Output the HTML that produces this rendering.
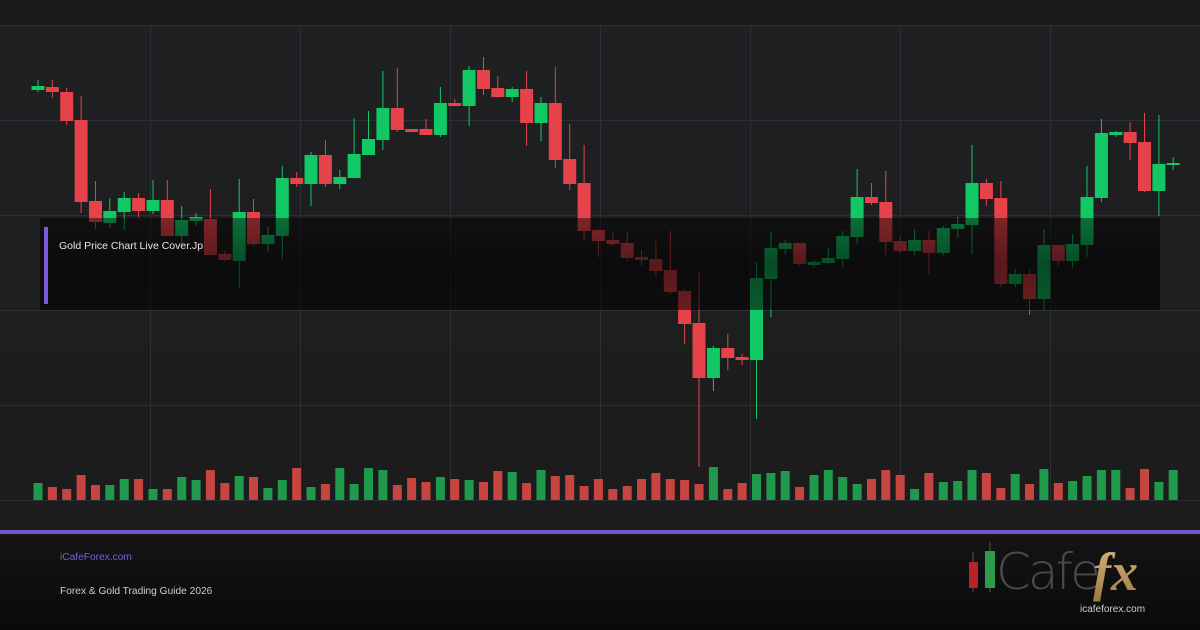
<!DOCTYPE html>
<html><head><meta charset="utf-8"><style>
html,body{margin:0;padding:0;background:#1c1c1e;}
body{width:1200px;height:630px;overflow:hidden;position:relative;font-family:"Liberation Sans",sans-serif;}
svg{position:absolute;left:0;top:0;}
</style></head><body>
<svg id="s" width="1200" height="630" viewBox="0 0 1200 630" xmlns="http://www.w3.org/2000/svg">
<defs>
<linearGradient id="bg" x1="0" y1="0" x2="0" y2="1"><stop offset="0" stop-color="#1f2022"/><stop offset="1" stop-color="#1c1c1c"/></linearGradient>
<linearGradient id="ft" x1="0" y1="0" x2="0" y2="1"><stop offset="0" stop-color="#141414"/><stop offset="1" stop-color="#0a0a0a"/></linearGradient>
<linearGradient id="ov" x1="0" y1="0" x2="0" y2="1"><stop offset="0" stop-color="#000" stop-opacity="0.45"/><stop offset="0.5" stop-color="#000" stop-opacity="0.62"/><stop offset="1" stop-color="#000" stop-opacity="0.55"/></linearGradient>
<linearGradient id="gold" x1="0" y1="0" x2="0" y2="1"><stop offset="0" stop-color="#d9b77a"/><stop offset="1" stop-color="#9c7a45"/></linearGradient>
</defs>
<rect x="0" y="0" width="1200" height="25" fill="#19191b"/>
<rect x="0" y="25" width="1200" height="505" fill="url(#bg)"/>
<g id="grid" stroke="#2c2f38" stroke-width="1"></g>
<g id="vol"></g>
<g id="cs"></g>
<rect x="40" y="218" width="1120" height="92" fill="url(#ov)"/>
<rect x="44" y="227" width="4" height="77" fill="#7a5ad8"/>
<text x="59" y="249" font-size="10.5" fill="#e8e8e8">Gold Price Chart Live Cover.Jp</text>
<rect x="0" y="530" width="1200" height="4" fill="#7255c8"/>
<rect x="0" y="534" width="1200" height="96" fill="url(#ft)"/>
<text x="60" y="560" font-size="10.2" fill="#7b5fd6">iCafeForex.com</text>
<text x="60" y="594" font-size="10.2" fill="#cfcfcf">Forex &amp; Gold Trading Guide 2026</text>
<line x1="973" y1="552" x2="973" y2="592" stroke="#555" stroke-width="1"/>
<rect x="969" y="562" width="9" height="26" fill="#b8232a"/>
<line x1="990" y1="542" x2="990" y2="592" stroke="#555" stroke-width="1"/>
<rect x="985" y="551" width="10" height="37" fill="#2f9a47"/>
<text x="996" y="589" font-size="50" fill="#4a4a4a" font-family="'DejaVu Sans','Liberation Sans',sans-serif" font-weight="200" letter-spacing="-3">Cafe</text>
<text x="1093" y="590" font-size="54" fill="url(#gold)" font-family="'Liberation Serif',serif" font-style="italic" font-weight="bold">fx</text>
<text x="1080" y="612" font-size="10" fill="#d0d0d0">icafeforex.com</text>
</svg>
<script>
var ns="http://www.w3.org/2000/svg";
function el(p,t,a){var e=document.createElementNS(ns,t);for(var k in a)e.setAttribute(k,a[k]);p.appendChild(e);return e;}
var g=document.getElementById('grid');
[25,120,215,310,405,500].forEach(function(y){el(g,'line',{x1:0,x2:1200,y1:y+.5,y2:y+.5});});
[150,300,450,600,750,900,1050].forEach(function(x){el(g,'line',{x1:x+.5,x2:x+.5,y1:25,y2:500});});
var d=[[86,90,80,92,1],[87,92,80,98,0],[92,121,88,125,0],[120,202,96,213,0],[201,222,181,229,0],[211,223,198,228,1],[198,212,192,230,1],[198,211,193,217,0],[200,211,180,214,1],[200,236,180,236,0],
[220,236,206,245,1],[217,221,213,226,1],[219,255,189,257,0],[254,260,251,262,0],[212,261,179,288,1],[212,244,199,246,0],[235,244,227,252,1],[178,236,166,259,1],[178,184,172,187,0],[155,184,152,206,1],
[155,184,140,187,0],[177,184,170,189,1],[154,178,118,178,1],[139,155,111,150,1],[108,140,71,150,1],[108,130,68,132,0],[129,132,129,132,0],[129,135,119,135,0],[103,135,87,137,1],[103,106,99,106,0],
[70,106,66,126,1],[70,89,57,95,0],[88,97,76,98,0],[89,97,87,102,1],[89,123,71,146,0],[103,123,97,141,1],[103,160,67,168,0],[159,184,124,190,0],[183,231,145,240,0],[230,241,229,257,0],
[240,244,233,246,0],[243,258,232,261,0],[257,260,250,266,0],[259,271,241,277,0],[270,292,231,294,0],[291,324,289,344,0],[323,378,271,467,0],[348,378,346,391,1],[348,358,334,370,0],[357,360,354,365,0],
[278,360,262,419,1],[248,279,232,317,1],[243,249,240,255,1],[243,264,243,266,0],[262,265,260,268,1],[258,263,248,264,1],[236,259,231,268,1],[197,237,169,244,1],[197,203,183,205,0],[202,242,171,255,0],
[241,251,236,254,0],[240,251,229,255,1],[240,253,231,274,0],[228,253,226,255,1],[224,229,217,238,1],[183,225,145,254,1],[183,199,179,206,0],[198,284,181,287,0],[274,284,269,287,1],[274,299,270,315,0],
[245,299,229,310,1],[245,261,245,266,0],[244,261,234,268,1],[197,245,166,257,1],[133,198,119,202,1],[132,135,131,137,1],[132,143,122,160,0],[142,191,113,192,0],[164,191,115,216,1],[163,165,157,170,1]];
var vh=[17,13,11,25,15,15,21,21,11,11,23,20,30,17,24,23,12,20,32,13,16,32,16,32,30,15,22,18,23,21,20,18,29,28,17,30,24,25,14,21,
11,14,21,27,21,20,16,33,11,17,26,27,29,13,25,30,23,16,21,30,25,11,27,18,19,30,27,12,26,16,31,17,19,24,30,30,12,31,18,30];
var cs=document.getElementById('cs'),vol=document.getElementById('vol');
d.forEach(function(c,i){
 var x=38+i*14.37,col=c[4]?'#12c865':'#e5424a',vc=c[4]?'#1f9a4c':'#c64541';
 el(cs,'rect',{x:(x-0.5).toFixed(1),y:c[2],width:1,height:c[3]-c[2],fill:col});
 el(cs,'rect',{x:(x-6.5).toFixed(1),y:c[0],width:13,height:Math.max(2,c[1]-c[0]),fill:col});
 el(vol,'rect',{x:(x-4.5).toFixed(1),y:500-vh[i],width:9,height:vh[i],fill:vc});
});
</script>
</body></html>
